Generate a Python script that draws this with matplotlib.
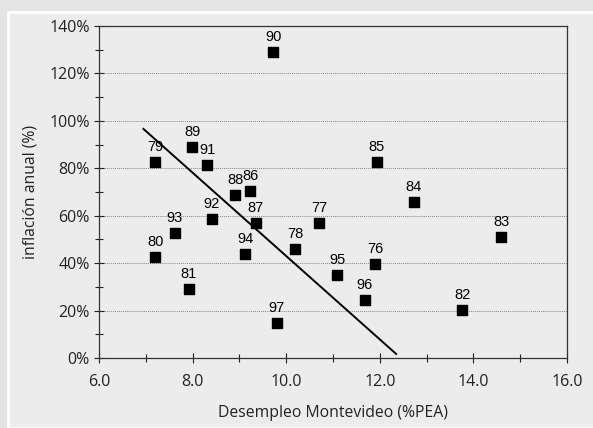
import matplotlib.pyplot as plt
from matplotlib.patches import Rectangle
from matplotlib.ticker import FuncFormatter, MultipleLocator

# ── Datos (año, desempleo %PEA, inflación anual) ──────────
years = ["76", "77", "78", "79", "80", "81", "82", "83", "84", "85", "86",
         "87", "88", "89", "90", "91", "92", "93", "94", "95", "96", "97"]
desempleo = [11.90, 10.70, 10.19, 7.20, 7.20, 7.92, 13.76, 14.59, 12.73, 11.94, 9.23,
             9.35, 8.91, 7.99, 9.72, 8.31, 8.41, 7.62, 9.12, 11.09, 11.68, 9.80]
inflacion = [0.396, 0.570, 0.460, 0.827, 0.426, 0.291, 0.202, 0.510, 0.658, 0.827, 0.704,
             0.570, 0.687, 0.890, 1.290, 0.814, 0.586, 0.527, 0.439, 0.350, 0.245, 0.148]

# recta de tendencia (extremos)
trend_x = [6.95, 12.35]
trend_y = [0.966, 0.017]

BG = "#ececec"

fig = plt.figure(figsize=(5.93, 4.28), dpi=100, facecolor="#e4e4e4")
# panel interior con borde blanco
fig.patches.append(Rectangle((8 / 593, 0), 1, 1 - 12 / 428, transform=fig.transFigure,
                             facecolor=BG, edgecolor="white", linewidth=2, zorder=-10))

ax = fig.add_axes([99 / 593, 1 - 358 / 428, 468 / 593, 332 / 428])
ax.set_facecolor(BG)

ax.scatter(desempleo, inflacion, marker="s", s=62, color="black", zorder=3)
for yr, x, y in zip(years, desempleo, inflacion):
    ax.annotate(yr, (x, y), xytext=(0, 5.5), textcoords="offset points",
                ha="center", va="bottom", fontsize=10.5, family="Liberation Sans")

ax.plot(trend_x, trend_y, color="black", linewidth=1.4, zorder=2)

ax.set_xlim(6, 16)
ax.set_ylim(0, 1.4)
ax.xaxis.set_major_locator(MultipleLocator(2))
ax.xaxis.set_minor_locator(MultipleLocator(1))
ax.yaxis.set_major_locator(MultipleLocator(0.2))
ax.yaxis.set_minor_locator(MultipleLocator(0.1))
ax.xaxis.set_major_formatter(FuncFormatter(lambda v, p: f"{v:.1f}"))
ax.yaxis.set_major_formatter(FuncFormatter(lambda v, p: f"{v * 100:.0f}%"))

ax.grid(axis="y", which="major", color="#888888", linestyle=(0, (1, 1)), linewidth=0.7)
ax.set_axisbelow(True)

ax.tick_params(which="both", direction="inout", width=0.8, colors="#222222",
               labelsize=11.5, labelcolor="#222222")
ax.tick_params(which="major", length=7)
ax.tick_params(which="minor", length=6)
ax.tick_params(axis="x", pad=8)
ax.tick_params(axis="y", pad=3)
for lbl in ax.get_xticklabels() + ax.get_yticklabels():
    lbl.set_family("Open Sans")

for side in ["left", "bottom", "right", "top"]:
    ax.spines[side].set_linewidth(0.9)
    ax.spines[side].set_color("#333333")

ax.set_xlabel("Desempleo Montevideo (%PEA)", fontsize=11.3, family="Open Sans",
              color="#222222", labelpad=11)
ax.set_ylabel("inflación anual (%)", fontsize=11.3, family="Open Sans",
              color="#222222", labelpad=8)

fig.savefig("out.png", dpi=100, facecolor=fig.get_facecolor())
